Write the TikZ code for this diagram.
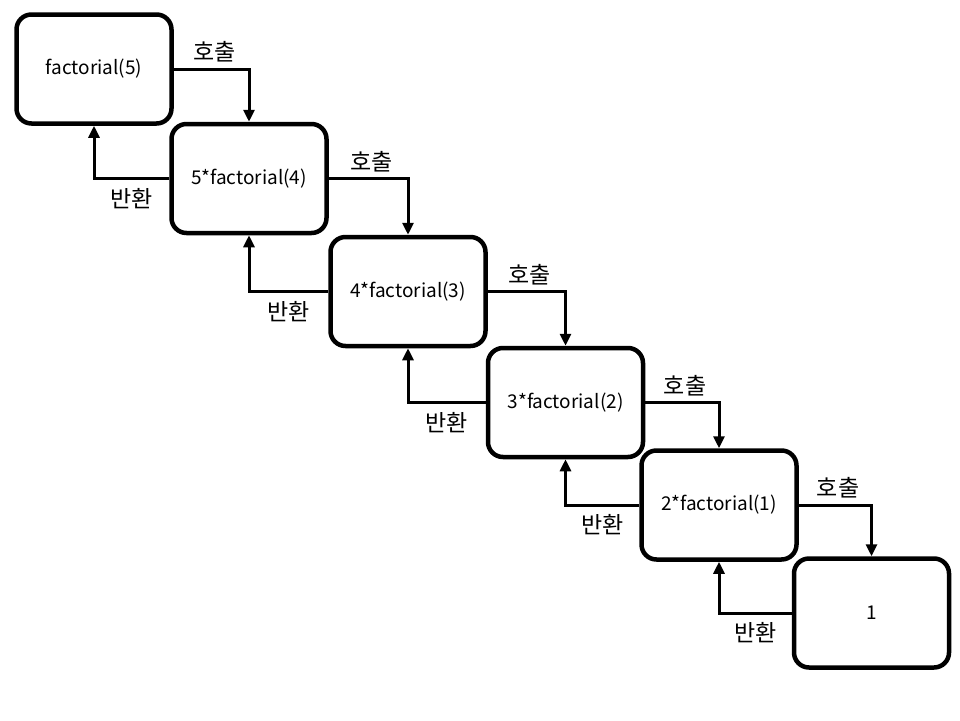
\documentclass[tikz,border=0pt]{standalone}
\usepackage{fontspec}
\setmainfont{Noto Sans CJK KR}
\usetikzlibrary{arrows.meta}
\tikzset{
  fbox/.style={draw, line width=4.5pt, rounded corners=15pt, minimum width=155pt, minimum height=109pt, inner sep=0pt, font=\fontsize{19}{22}\selectfont},
  conn/.style={line width=3pt, -{Triangle[length=12pt,width=11pt]}},
  lbl/.style={font=\fontsize{23}{26}\selectfont, inner sep=0pt}
}
\begin{document}
\begin{tikzpicture}[x=1pt,y=-1pt]
\useasboundingbox (0,0) rectangle (960,720);
\node[fbox] (b1) at (94,69) {factorial(5)};
\node[fbox] (b2) at (249,178.5) {5*factorial(4)};
\node[fbox] (b3) at (408,291.5) {4*factorial(3)};
\node[fbox] (b4) at (565.5,402.5) {3*factorial(2)};
\node[fbox] (b5) at (719,505) {2*factorial(1)};
\node[fbox] (b6) at (871.5,613) {1};
\foreach \a/\b in {b1/b2,b2/b3,b3/b4,b4/b5,b5/b6}{
  \draw[conn] (\a.east) -| (\b.north) node[lbl, pos=0.27, above=5pt] {호출};
  \draw[conn] (\b.west) -| (\a.south) node[lbl, pos=0.25, below=8pt] {반환};
}
\end{tikzpicture}
\end{document}
